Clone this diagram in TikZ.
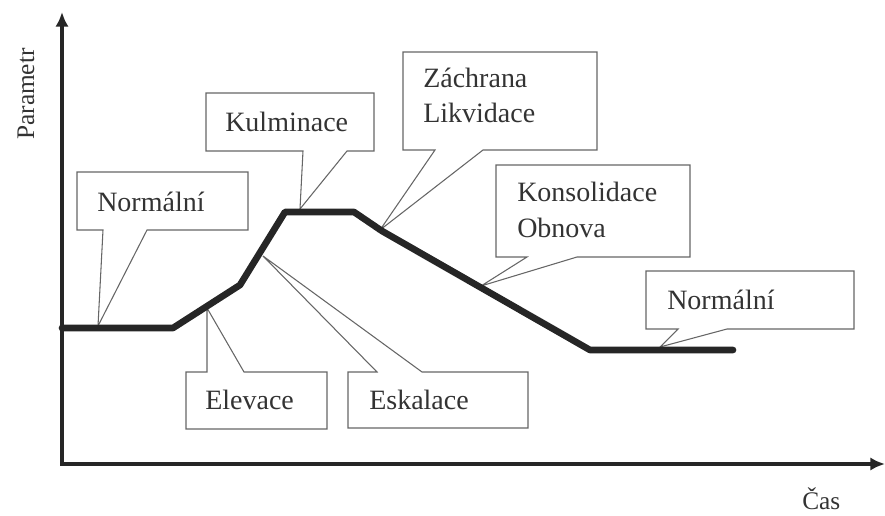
\documentclass[tikz,border=0pt]{standalone}
\usepackage{fontspec}
\setmainfont{Liberation Serif}
\usetikzlibrary{arrows.meta}
\begin{document}
\begin{tikzpicture}[x=0.75pt,y=-0.75pt,
  axisline/.style={line width=2.3pt, draw=black!85, line join=miter,
    {Latex[length=11pt,width=10pt]}-{Latex[length=11pt,width=10pt]}},
  trend/.style={line width=5pt, draw=black!85, line join=round, line cap=round},
  callout/.style={draw=black!60, line width=0.8pt, line join=miter},
  lbl/.style={font=\fontsize{21}{25}\selectfont, text=black!80, inner sep=0pt, anchor=base west},
  axlbl/.style={font=\fontsize{19}{22}\selectfont, text=black!80, inner sep=0pt, anchor=base west}]
\useasboundingbox (0,0) rectangle (885,516);

% axes
\coordinate (O) at (62,464);
\coordinate (ytop) at (62,12);
\coordinate (xend) at (885,464);
\draw[axisline] (ytop) -- (O) -- (xend);
\node[axlbl, rotate=90] (par) at (34,140) {Parametr};
\node[axlbl] (cas) at (802,509) {Čas};

% tips of the callouts
\coordinate (tN1) at (98,326);
\coordinate (tK) at (300,209);
\coordinate (tZ) at (380,230);
\coordinate (tKo) at (481,286);
\coordinate (tN2) at (660,347);
\coordinate (tEl) at (207,308);
\coordinate (tEs) at (263,256);

% callouts
\draw[callout] (77,172) -- (248,172) -- (248,230) -- (147,230) -- (tN1) -- (103,230) -- (77,230) -- cycle;
\draw[callout] (206,93) -- (374,93) -- (374,151) -- (347,151) -- (tK) -- (303,151) -- (206,151) -- cycle;
\draw[callout] (403,52) -- (597,52) -- (597,150) -- (483,150) -- (tZ) -- (435,150) -- (403,150) -- cycle;
\draw[callout] (496,165) -- (690,165) -- (690,257) -- (577,257) -- (tKo) -- (527,257) -- (496,257) -- cycle;
\draw[callout] (646,271) -- (854,271) -- (854,329) -- (727,329) -- (tN2) -- (678,329) -- (646,329) -- cycle;
\draw[callout] (186,372) -- (207,372) -- (tEl) -- (244,372) -- (327,372) -- (327,429) -- (186,429) -- cycle;
\draw[callout] (348,372) -- (377,372) -- (tEs) -- (422,372) -- (528,372) -- (528,428) -- (348,428) -- cycle;

% labels
\node[lbl] (norm1) at (97,212) {Normální};
\node[lbl] (kulm) at (225,132) {Kulminace};
\node[lbl] (zach) at (423,88) {Záchrana};
\node[lbl] (likv) at (423,123) {Likvidace};
\node[lbl] (kons) at (517,202) {Konsolidace};
\node[lbl] (obn) at (517,238) {Obnova};
\node[lbl] (norm2) at (667,310) {Normální};
\node[lbl] (elev) at (205,410) {Elevace};
\node[lbl] (eskal) at (369,410) {Eskalace};

% trend line
\draw[trend] (62,328) -- (173,328) -- (240,285) -- (285,212) -- (354,212) -- (382,231) -- (590,350) -- (733,350);
\end{tikzpicture}
\end{document}
